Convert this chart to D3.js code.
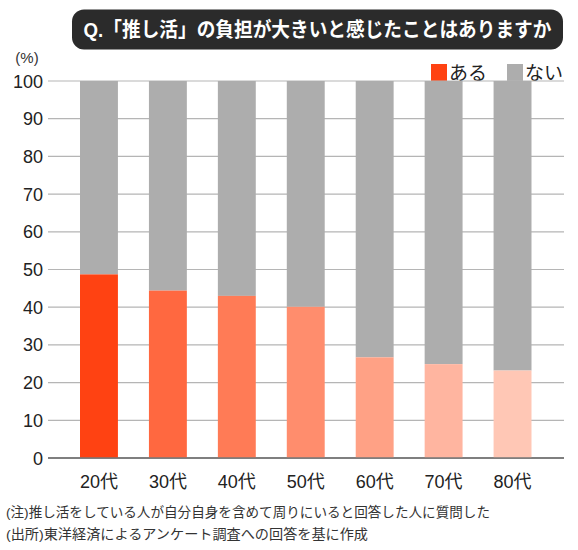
<!DOCTYPE html>
<html>
<head>
<meta charset="utf-8">
<script src="https://cdn.jsdelivr.net/npm/d3@7"></script>
<style>
  body { margin: 0; background: #fff; }
  svg { display: block; font-family: "Liberation Sans", "Noto Sans CJK JP", sans-serif; }
</style>
</head>
<body>
<svg id="chart" width="578" height="550"></svg>
<script>
const categories = ["20代", "30代", "40代", "50代", "60代", "70代", "80代"];
const yesValues = [48.7, 44.4, 43.0, 40.1, 26.7, 24.9, 23.2];
const noValues = yesValues.map(v => 100 - v);
const barColors = ["#ff4212", "#ff6840", "#ff7b56", "#ff8d6d", "#ffa185", "#ffb5a0", "#ffc7b5"];
const yTicks = [0, 10, 20, 30, 40, 50, 60, 70, 80, 90, 100];
const legendLabels = ["ある", "ない"];
const title = "Q.「推し活」の負担が大きいと感じたことはありますか";
const notes = [
  "(注)推し活をしている人が自分自身を含めて周りにいると回答した人に質問した",
  "(出所)東洋経済によるアンケート調査への回答を基に作成"
];

const svg = d3.select("#chart");
const gridX0 = 48, gridX1 = 564;
const y = d3.scaleLinear().domain([0, 100]).range([458, 81]);
const x = d3.scaleBand().domain(categories).range([64.5, 547]).paddingInner(0.45).paddingOuter(0.225);

// Title box
svg.append("rect").attr("x", 72).attr("y", 9.5).attr("width", 491).attr("height", 40)
  .attr("rx", 12).attr("fill", "#2b2b2b");
const titleText = svg.append("text").attr("text-anchor", "middle")
  .attr("fill", "#fff").attr("font-size", 20).attr("font-weight", "bold").text(title);
const tw = titleText.node().getComputedTextLength();
const sx = Math.min(1, 468 / tw);
titleText.attr("transform", `translate(317.5,36.5) scale(${sx},1)`);

// Legend
const legendColors = [barColors[0], "#adadad"];
const legendX = [431, 507];
legendLabels.forEach((l, i) => {
  svg.append("rect").attr("x", legendX[i]).attr("y", 64).attr("width", 16).attr("height", 17)
    .attr("fill", legendColors[i]);
  svg.append("text").attr("x", legendX[i] + 18).attr("y", 80)
    .attr("font-size", 19).attr("fill", "#222").text(l);
});

// (%)
svg.append("text").attr("x", 27).attr("y", 63).attr("text-anchor", "middle")
  .attr("font-size", 15).attr("fill", "#333").text("(%)");

// Grid lines
svg.append("g").selectAll("line").data(yTicks).join("line")
  .attr("x1", gridX0).attr("x2", gridX1)
  .attr("y1", d => y(d)).attr("y2", d => y(d))
  .attr("stroke", d => d === 0 ? "#777" : "#b5b5b5").attr("stroke-width", d => d === 0 ? 1.6 : 1.2);

// Y labels
svg.append("g").selectAll("text").data(yTicks).join("text")
  .attr("x", 43).attr("y", d => y(d) + 6.5).attr("text-anchor", "end")
  .attr("font-size", 18).attr("fill", "#222").text(d => d);

// Bars
const bars = svg.append("g");
bars.selectAll("rect.no").data(categories).join("rect").attr("class", "no")
  .attr("x", d => x(d)).attr("width", x.bandwidth())
  .attr("y", (d, i) => y(100)).attr("height", (d, i) => y(yesValues[i]) - y(100))
  .attr("fill", "#adadad");
bars.selectAll("rect.yes").data(categories).join("rect").attr("class", "yes")
  .attr("x", d => x(d)).attr("width", x.bandwidth())
  .attr("y", (d, i) => y(yesValues[i])).attr("height", (d, i) => y(0) - y(yesValues[i]))
  .attr("fill", (d, i) => barColors[i]);

// Baseline on top
svg.append("line").attr("x1", gridX0).attr("x2", gridX1).attr("y1", y(0)).attr("y2", y(0))
  .attr("stroke", "#777").attr("stroke-width", 1.6);

// X labels
svg.append("g").selectAll("text").data(categories).join("text")
  .attr("x", d => x(d) + x.bandwidth() / 2).attr("y", 488).attr("text-anchor", "middle")
  .attr("font-size", 18).attr("fill", "#222").text(d => d);

// Notes
notes.forEach((n, i) => {
  svg.append("text").attr("x", 6).attr("y", 517 + i * 22)
    .attr("font-size", 13.5).attr("fill", "#333").attr("textLength", i === 0 ? 484 : 362)
    .attr("lengthAdjust", "spacingAndGlyphs").text(n);
});
</script>
</body>
</html>
